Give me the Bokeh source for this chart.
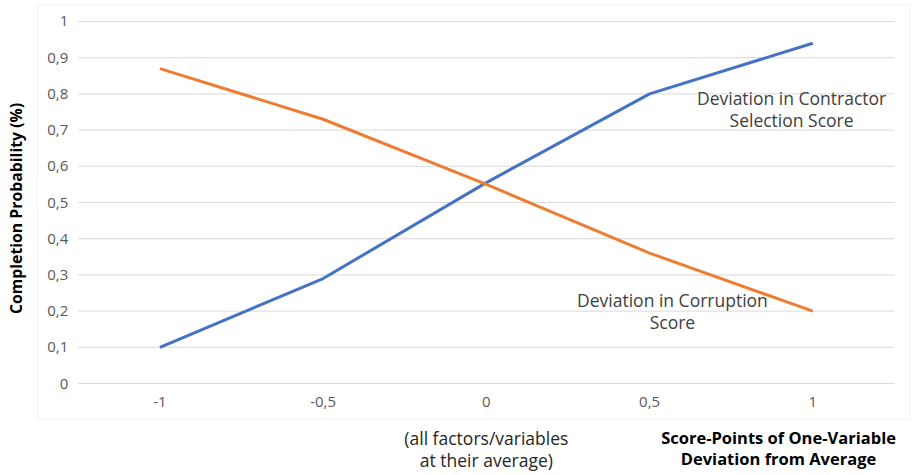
import math
from bokeh.plotting import figure
from bokeh.models import Range1d, Label, BoxAnnotation
from bokeh.core.properties import value
from bokeh.embed import file_html
from bokeh.resources import INLINE

# ---- data ----
x_values = [-1, -0.5, 0, 0.5, 1]
x_tick_labels = ["-1", "-0,5", "0", "0,5", "1"]
contractor_selection = [0.10, 0.29, 0.555, 0.80, 0.94]
corruption = [0.87, 0.73, 0.55, 0.36, 0.20]
y_ticks = [0, 0.1, 0.2, 0.3, 0.4, 0.5, 0.6, 0.7, 0.8, 0.9, 1]
y_tick_labels = ["0", "0,1", "0,2", "0,3", "0,4", "0,5", "0,6", "0,7", "0,8", "0,9", "1"]

FONT = "Open Sans"
GRID_LEFT, GRID_RIGHT = -1.25, 1.25

p = figure(width=918, height=475, x_range=Range1d(-1.4883, 1.3238),
           y_range=Range1d(-0.2541, 1.058), output_backend="svg",
           toolbar_location=None, x_axis_location=None, y_axis_location=None,
           min_border_left=0, min_border_right=0, min_border_top=0, min_border_bottom=0)
p.outline_line_color = None
p.background_fill_color = "white"
p.border_fill_color = "white"
p.xgrid.visible = False
p.ygrid.visible = False

# chart area border
p.add_layout(BoxAnnotation(left=-1.3749, right=1.2962, top=1.047, bottom=-0.0994,
                           fill_alpha=0, line_color="#d9d9d9", line_width=1.3))

# horizontal grid lines at the y ticks
p.segment(x0=[GRID_LEFT] * len(y_ticks), x1=[GRID_RIGHT] * len(y_ticks),
          y0=y_ticks, y1=y_ticks, line_color="#d9d9d9", line_width=1)

# tick labels
p.text(x=[GRID_LEFT] * len(y_ticks), y=y_ticks, text=y_tick_labels, x_offset=-10,
       text_align="right", text_baseline="middle", text_font=value(FONT),
       text_font_size="15px", text_color="#595959")
p.text(x=x_values, y=[0] * len(x_values), text=x_tick_labels, y_offset=18,
       text_align="center", text_baseline="middle", text_font=value(FONT),
       text_font_size="15px", text_color="#595959")

# series
p.line(x_values, contractor_selection, line_color="#4472C4", line_width=3)
p.line(x_values, corruption, line_color="#ED7D31", line_width=3)

# y-axis title
p.add_layout(Label(x=-1.4423, y=0.4834, text="Completion Probability (%)",
                   angle=math.pi / 2, text_align="center", text_baseline="middle",
                   text_font=FONT, text_font_size="15.8px", text_font_style="bold",
                   text_color="#000000"))

def lab(text, x, y, bold=False, color="#404040", size="17.5px"):
    p.add_layout(Label(x=x, y=y, text=text, text_align="center", text_baseline="top",
                       text_font=FONT, text_font_size=size,
                       text_font_style="bold" if bold else "normal",
                       text_color=color, text_line_height=0.92))

lab("Deviation in Contractor\nSelection Score", 0.935, 0.822)
lab("Deviation in Corruption\nScore", 0.570, 0.265)
lab("(all factors/variables\nat their average)", 0.0, -0.118, color="#262626")
lab("Score-Points of One-Variable\nDeviation from Average", 0.895, -0.118,
    bold=True, color="#000000", size="16.5px")

open("out.html", "w").write(file_html(p, INLINE))
